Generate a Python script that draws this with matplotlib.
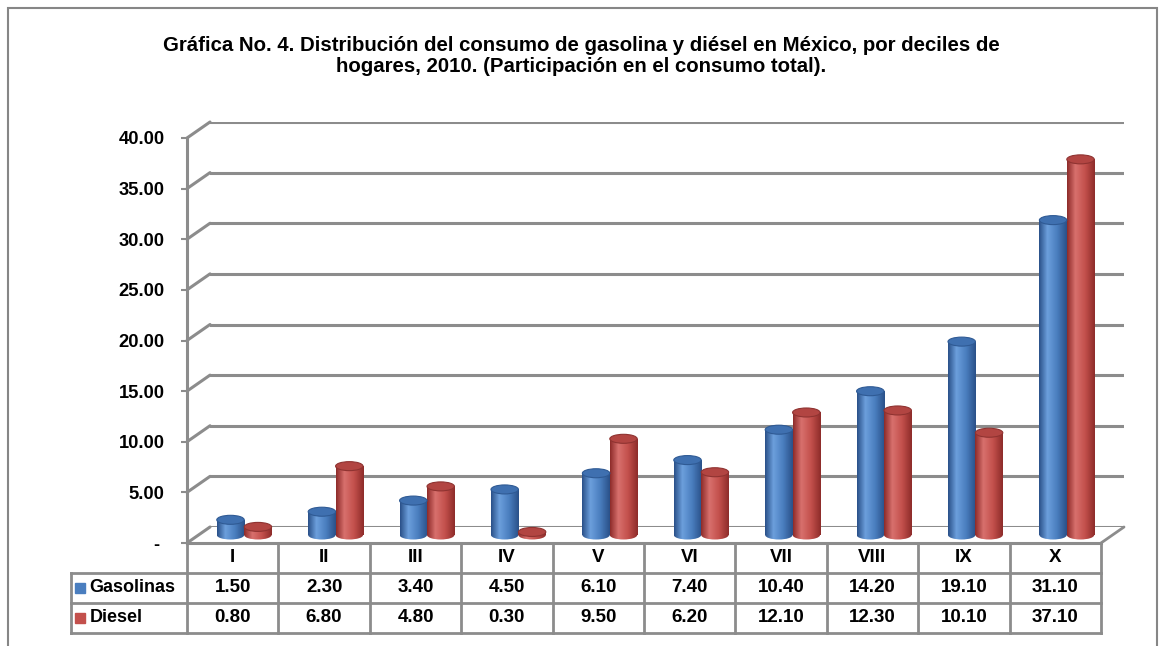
import numpy as np
import matplotlib.pyplot as plt
from matplotlib.patches import Rectangle, Ellipse, ConnectionPatch
from matplotlib.colors import LinearSegmentedColormap

plt.rcParams['font.family'] = ['Liberation Sans', 'DejaVu Sans']

# data
deciles = ['I', 'II', 'III', 'IV', 'V', 'VI', 'VII', 'VIII', 'IX', 'X']
gasolinas = [1.50, 2.30, 3.40, 4.50, 6.10, 7.40, 10.40, 14.20, 19.10, 31.10]
diesel = [0.80, 6.80, 4.80, 0.30, 9.50, 6.20, 12.10, 12.30, 10.10, 37.10]
series_names = ['Gasolinas', 'Diesel']
y_ticks = [0, 5, 10, 15, 20, 25, 30, 35, 40]
title = ('Gráfica No. 4. Distribución del consumo de gasolina y diésel en México, por deciles de\n'
         'hogares, 2010. (Participación en el consumo total).')

W, H = 1165, 646
fig = plt.figure(figsize=(W / 100, H / 100), dpi=100)
grid_c = '#8c8c8c'


def place(x0, x1, ybot, ytop, z):
    # axes from pixel box (y measured from top of the image)
    return fig.add_axes([x0 / W, 1 - ybot / H, (x1 - x0) / W, (ybot - ytop) / H], zorder=z)


px_unit = 405 / 40.0
# back wall (gridlines), front (value axis), middle plane (cylinders)
back = place(210, 1124, 527, 122, 0)
front = place(187, 1101, 543, 138, 1)
mid = place(198.5, 1112.5, 535 + 1.5 * px_unit, 130, 2)

for a in (back, front):
    a.set_xlim(-0.5, 9.5)
    a.set_ylim(0, 40)
    a.patch.set_visible(False)

back.axis('off')
for v in y_ticks:
    back.axhline(v, color=grid_c, lw=2.2)
    fig.add_artist(ConnectionPatch(xyA=(-0.5, v), coordsA=front.transData,
                                   xyB=(-0.5, v), coordsB=back.transData,
                                   color=grid_c, lw=2.2))
fig.add_artist(ConnectionPatch(xyA=(9.5, 0), coordsA=front.transData,
                               xyB=(9.5, 0), coordsB=back.transData,
                               color=grid_c, lw=2.0))

for side in ('top', 'right'):
    front.spines[side].set_visible(False)
for side in ('left', 'bottom'):
    front.spines[side].set_color(grid_c)
    front.spines[side].set_linewidth(2.2)
front.set_xticks([])
front.set_yticks(y_ticks)
front.set_yticklabels(['- ' if v == 0 else '%.2f' % v for v in y_ticks],
                      fontsize=13.2, fontweight='bold')
front.tick_params(axis='y', length=4, width=1.5, color=grid_c, pad=12)

# cylinders
def cyl_cmap(dark, light, base):
    return LinearSegmentedColormap.from_list('c', [(0, dark), (0.3, light), (0.65, base), (1, dark)])

styles = [
    (gasolinas, cyl_cmap('#2a5189', '#6c9fdc', '#4a7ebf'), '#3f70b0', '#2f5a94', -0.15),
    (diesel, cyl_cmap('#8e2c2a', '#d8706d', '#c3504c'), '#b24542', '#8f3331', 0.15),
]
grad = np.linspace(0, 1, 64).reshape(1, -1)
bw = 0.3
eh = 9 / px_unit
for vals, cm, topc, edgec, off in styles:
    for i, v in enumerate(vals):
        xc = i + off
        body = Rectangle((xc - bw / 2, 0), bw, v, fc='none', ec='none')
        base = Ellipse((xc, 0), bw, eh, fc='none', ec='none')
        mid.add_patch(body)
        mid.add_patch(base)
        for clip in (body, base):
            im = mid.imshow(grad, cmap=cm, extent=(xc - bw / 2, xc + bw / 2, -1.5, v + 0.1),
                            aspect='auto', zorder=2)
            im.set_clip_path(clip)
        mid.add_patch(Ellipse((xc, v), bw, eh, fc=topc, ec=edgec, lw=0.8, zorder=3))
mid.set_xlim(-0.5, 9.5)
mid.set_ylim(-1.5, 40)
mid.axis('off')

# data table
tab = place(187, 1101, 633, 543, 3)
tab.set_xlim(-0.5, 9.5)
tab.set_ylim(3, 0)
tab.axis('off')
x_left = -0.5 - (187 - 71) / 91.4
kw = dict(color=grid_c, lw=2.0, clip_on=False)
tab.plot([-0.5, 9.5], [0, 0], **kw)
for r in (1, 2, 3):
    tab.plot([x_left, 9.5], [r, r], **kw)
for k in range(11):
    tab.plot([-0.5 + k, -0.5 + k], [0, 3], **kw)
tab.plot([x_left, x_left], [1, 3], **kw)

for i, lab in enumerate(deciles):
    tab.text(i, 0.5, lab, ha='center', va='center', fontsize=13.5, fontweight='bold')
    tab.text(i, 1.5, '%.2f' % gasolinas[i], ha='center', va='center', fontsize=13.5, fontweight='bold')
    tab.text(i, 2.5, '%.2f' % diesel[i], ha='center', va='center', fontsize=13.5, fontweight='bold')
for r, (name, col) in enumerate(zip(series_names, ['#4a7ebf', '#c3504c'])):
    tab.plot([x_left + 0.1], [1.5 + r], marker='s', ms=7.5, color=col, clip_on=False)
    tab.text(x_left + 0.2, 1.5 + r, name, ha='left', va='center', fontsize=13, fontweight='bold')

fig.text(581 / W, 1 - 56 / H, title, ha='center', va='center', fontsize=14.7,
         fontweight='bold', linespacing=1.1)

fig.add_artist(Rectangle((8 / W, -0.05), (1157 - 8) / W, 1 - 8 / H + 0.05,
                         transform=fig.transFigure, fill=False, ec='#868686', lw=1.5))

fig.savefig('out.png', dpi=100)
